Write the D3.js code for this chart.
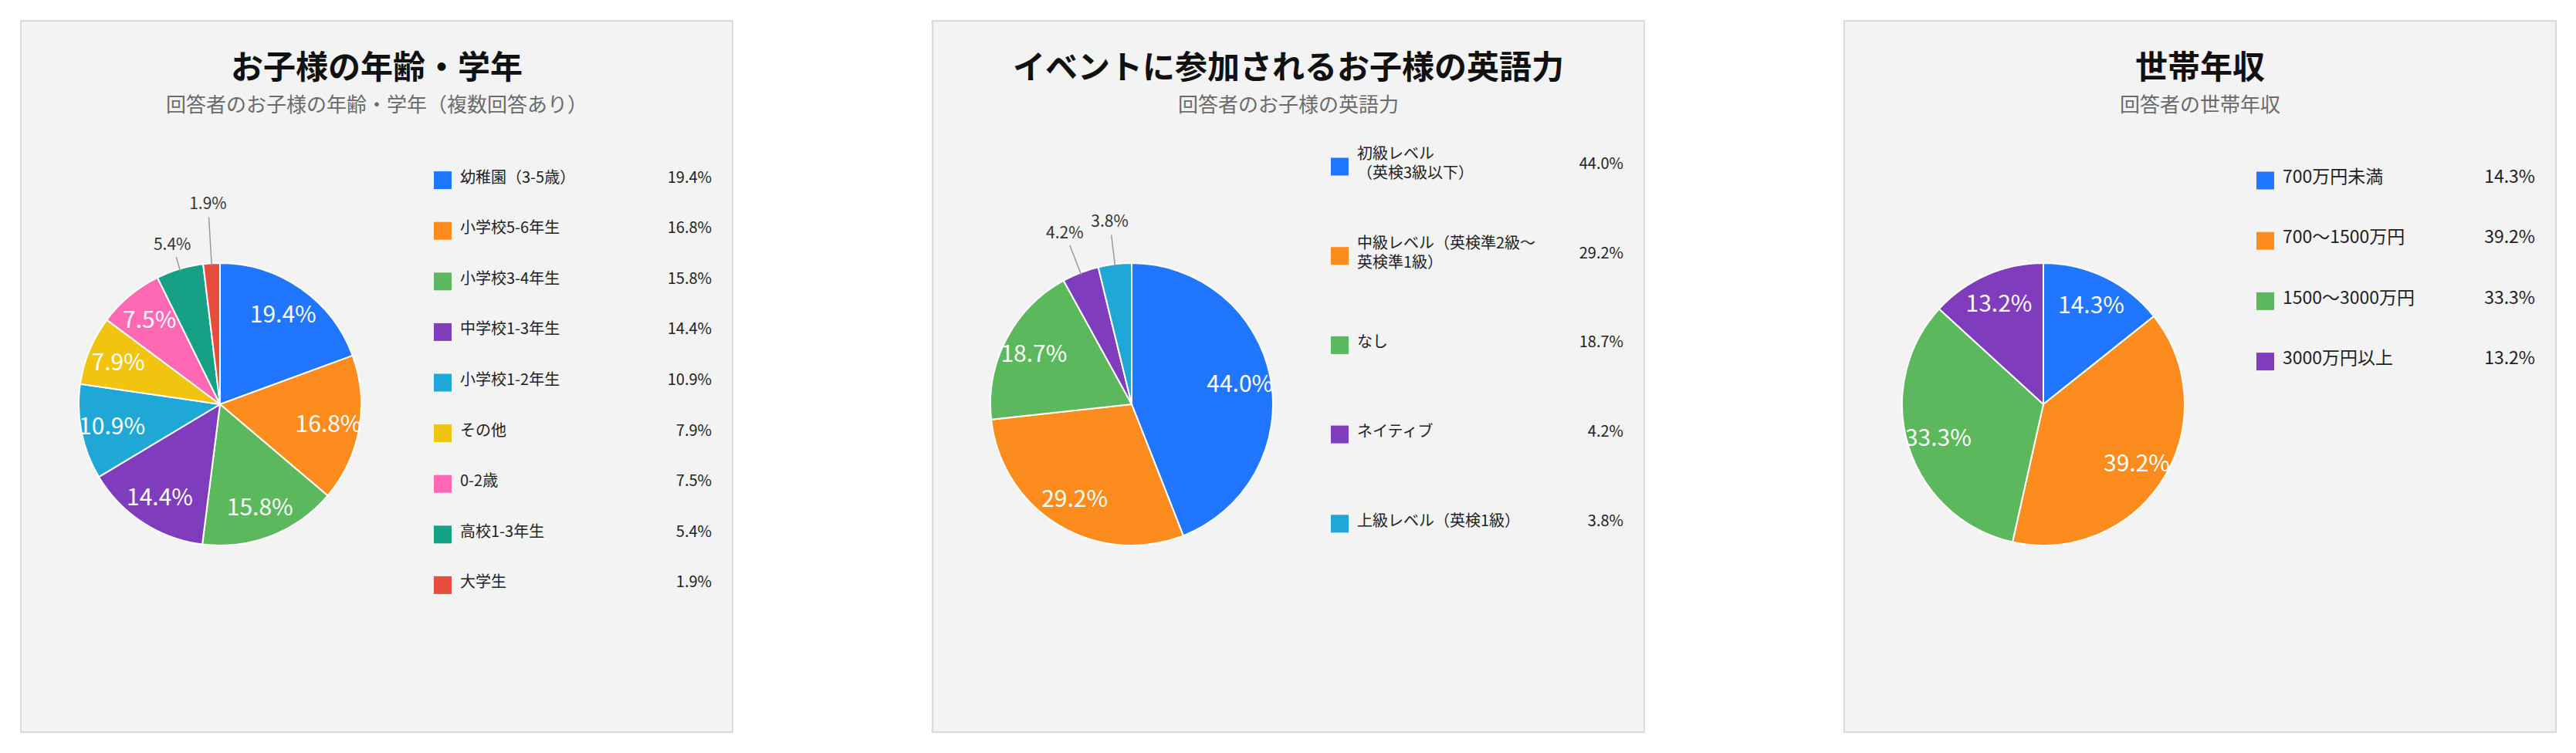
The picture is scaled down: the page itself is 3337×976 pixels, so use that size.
<!DOCTYPE html>
<html lang="ja">
<head>
<meta charset="utf-8">
<script src="https://cdn.jsdelivr.net/npm/d3@7"></script>
<style>
  html, body { margin: 0; padding: 0; background: #fff; }
  svg { display: block; font-family: "Noto Sans CJK JP", "Noto Sans", sans-serif; }
</style>
</head>
<body>
<svg id="chart" width="3337" height="976"></svg>
<script>
// chart data
const ageLabels = ["幼稚園（3-5歳）", "小学校5-6年生", "小学校3-4年生", "中学校1-3年生", "小学校1-2年生", "その他", "0-2歳", "高校1-3年生", "大学生"];
const ageValues = [19.4, 16.8, 15.8, 14.4, 10.9, 7.9, 7.5, 5.4, 1.9];

const englishLabels = ["初級レベル\n（英検3級以下）", "中級レベル（英検準2級〜\n英検準1級）", "なし", "ネイティブ", "上級レベル（英検1級）"];
const englishValues = [44.0, 29.2, 18.7, 4.2, 3.8];

const incomeLabels = ["700万円未満", "700〜1500万円", "1500〜3000万円", "3000万円以上"];
const incomeValues = [14.3, 39.2, 33.3, 13.2];

const palette = ["#2176ff", "#fd8c1e", "#5cb85c", "#7f3dbd", "#1fa7d6", "#f1c40f", "#ff69b4", "#16a085", "#e74c3c"];

// layout
const panelSize = 924;
const panelX = [26, 1207, 2388];
const panelY = 26;
const radius = 183;
const pieCx = 259, pieCy = 498;

const charts = [
    { title: "お子様の年齢・学年", subtitle: "回答者のお子様の年齢・学年（複数回答あり）",
      labels: ageLabels, values: ageValues,
      legendX: 536, legendY: 207.6, legendStep: 65.6, legendFont: 20, callout: [34, 78] },
    { title: "イベントに参加されるお子様の英語力", subtitle: "回答者のお子様の英語力",
      labels: englishLabels, values: englishValues,
      legendX: 517, legendY: 190, legendStep: 115.7, legendFont: 20, callout: [56, 56] },
    { title: "世帯年収", subtitle: "回答者の世帯年収",
      labels: incomeLabels, values: incomeValues,
      legendX: 535, legendY: 208, legendStep: 78.2, legendFont: 23, callout: [] }
];

const svg = d3.select("#chart");
const fmt = v => v.toFixed(1) + "%";

// point on circle, angle 0 = 12 o'clock, clockwise
function polar(a, r) {
    return [r * Math.sin(a), -r * Math.cos(a)];
}

function drawPanel(cfg, i)
{
    const g = svg.append("g")
        .attr("transform", `translate(${panelX[i]},${panelY})`);

    // background box
    g.append("rect")
        .attr("x", 1).attr("y", 1)
        .attr("width", panelSize - 2).attr("height", panelSize - 2)
        .attr("fill", "#f3f3f3")
        .attr("stroke", "#dadada")
        .attr("stroke-width", 2);

    // title + subtitle
    g.append("text")
        .attr("x", panelSize / 2).attr("y", 76)
        .attr("text-anchor", "middle")
        .attr("font-size", "42px")
        .attr("font-weight", 700)
        .attr("fill", "#111")
        .text(cfg.title);

    g.append("text")
        .attr("x", panelSize / 2).attr("y", 119)
        .attr("text-anchor", "middle")
        .attr("font-size", "26px")
        .attr("fill", "#6b6b6b")
        .text(cfg.subtitle);

    const color = d3.scaleOrdinal().domain(cfg.labels).range(palette);

    const pie = d3.pie().sort(null).value(d => d.value);
    const arcs = pie(cfg.labels.map((label, k) => ({ label, value: cfg.values[k] })));
    const arc = d3.arc().innerRadius(0).outerRadius(radius);

    const pg = g.append("g").attr("transform", `translate(${pieCx},${pieCy})`);

    pg.selectAll("path.slice")
        .data(arcs)
        .enter()
        .append("path")
        .attr("class", "slice")
        .attr("d", arc)
        .attr("fill", d => color(d.data.label))
        .attr("stroke", "#fff")
        .attr("stroke-width", 2);

    // labels inside big slices
    const inside = arcs.filter(d => d.data.value >= 6);
    pg.selectAll("text.inner")
        .data(inside)
        .enter()
        .append("text")
        .attr("class", "inner")
        .attr("transform", d => {
            const m = (d.startAngle + d.endAngle) / 2;
            const p = polar(m, radius * 0.78);
            return `translate(${p[0]},${p[1] + 11})`;
        })
        .attr("text-anchor", "middle")
        .attr("font-size", "30px")
        .attr("fill", "#fff")
        .text(d => fmt(d.data.value));

    // small slices get a callout line
    const outside = arcs.filter(d => d.data.value < 6);
    outside.forEach((d, k) => {
        const m = (d.startAngle + d.endAngle) / 2;
        const lr = radius + cfg.callout[k];
        const p0 = polar(m, radius - 3);
        const p1 = polar(m, lr - 18);
        const pt = polar(m, lr);
        pg.append("line")
            .attr("x1", p0[0]).attr("y1", p0[1])
            .attr("x2", p1[0]).attr("y2", p1[1])
            .attr("stroke", "#999")
            .attr("stroke-width", 1.5);
        pg.append("text")
            .attr("x", pt[0]).attr("y", pt[1] + 7.5)
            .attr("text-anchor", "middle")
            .attr("font-size", "21px")
            .attr("fill", "#333")
            .text(fmt(d.data.value));
    });

    // legend with values
    const fs = cfg.legendFont;
    const base = fs * 0.12 + 0.5;
    const lg = g.append("g");
    const rows = lg.selectAll("g.row")
        .data(cfg.labels)
        .enter()
        .append("g")
        .attr("class", "row")
        .attr("transform", (d, k) => `translate(0,${cfg.legendY + k * cfg.legendStep})`);

    rows.append("rect")
        .attr("x", cfg.legendX).attr("y", -11.5)
        .attr("width", 23).attr("height", 23)
        .attr("fill", d => color(d));

    rows.each(function (d) {
        const lines = d.split("\n");
        const t = d3.select(this).append("text")
            .attr("font-size", fs + "px")
            .attr("fill", "#222");
        lines.forEach((s, j) => {
            t.append("tspan")
                .attr("x", cfg.legendX + 34)
                .attr("y", base + (j - (lines.length - 1) / 2) * 25)
                .text(s);
        });
    });

    rows.append("text")
        .attr("x", 896).attr("y", base)
        .attr("text-anchor", "end")
        .attr("font-size", fs + "px")
        .attr("fill", "#222")
        .text((d, k) => fmt(cfg.values[k]));
}

charts.forEach(drawPanel);
</script>
</body>
</html>
